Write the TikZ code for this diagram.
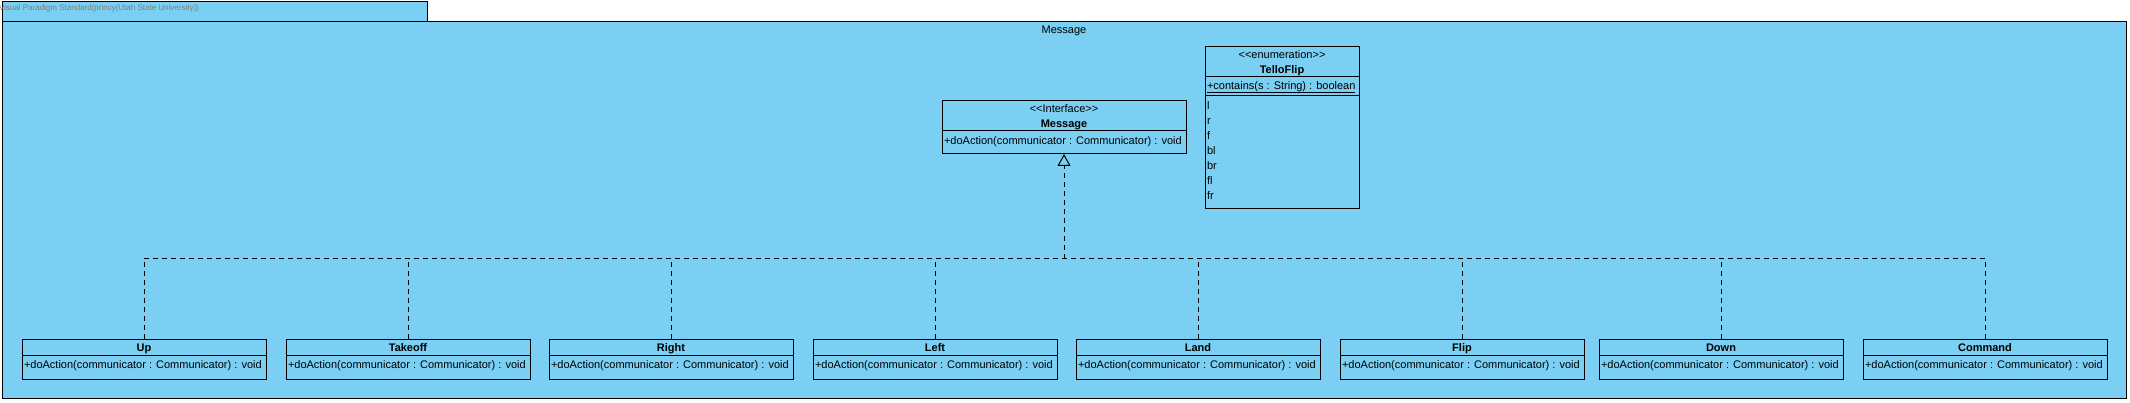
\documentclass[tikz,border=0pt]{standalone}
\usepackage{fontspec}
\setmainfont{Liberation Sans}
\usetikzlibrary{arrows.meta}
\definecolor{pkg}{RGB}{122,207,243}
\definecolor{tabgray}{RGB}{125,125,125}
\begin{document}
\begin{tikzpicture}[x=1pt,y=-1pt,line width=1pt,
  every node/.style={inner sep=0pt,outer sep=0pt},
  txt/.style={font=\fontsize{11}{13}\selectfont,text=black},
  boldtxt/.style={font=\fontsize{11}{13}\selectfont\bfseries,text=black},
  hdr/.style={draw=black,fill=pkg,minimum width=244pt,minimum height=16pt,anchor=north west,
    text height=8pt,text depth=0pt,font=\fontsize{11}{13}\selectfont\bfseries},
  bdy/.style={draw=black,fill=pkg,minimum width=244pt,minimum height=24pt,anchor=north},
  compart/.style={draw=black,fill=pkg,anchor=north west},
  realize/.style={dash pattern=on 5pt off 4pt}]
\useasboundingbox (0,0) rectangle (2130,403);
% package
\draw[fill=pkg] (2,2) rectangle (427,22);
\draw[fill=pkg] (2,22) rectangle (2126,398);
\node[anchor=base west,text=tabgray,font=\fontsize{8}{10}\selectfont] (tabtxt) at (-1,11) {Visual Paradigm Standard(princy(Utah State University))};
\node[txt,anchor=base] (pkglabel) at (1064,34) {Message};
% interface Message
\node[compart,minimum width=244pt,minimum height=30pt] (msgH) at (942,101) {};
\node[draw=black,fill=pkg,minimum width=244pt,minimum height=23pt,anchor=north] (msgB) at (msgH.south) {};
\node[txt,anchor=base] (msgSt) at (1064,113) {{<}{<}Interface{>}{>}};
\node[boldtxt,anchor=base] (msgNm) at (1064,128) {Message};
\node[txt,anchor=base west] (msgOp) at (944,145) {+doAction(communicator : Communicator) : void};
% enumeration TelloFlip
\node[compart,minimum width=154pt,minimum height=30pt] (tfH) at (1205,47) {};
\node[draw=black,fill=pkg,minimum width=154pt,minimum height=19pt,anchor=north] (tfO) at (tfH.south) {};
\node[draw=black,fill=pkg,minimum width=154pt,minimum height=113pt,anchor=north] (tfL) at (tfO.south) {};
\node[txt,anchor=base] (tfSt) at (1282,59) {{<}{<}enumeration{>}{>}};
\node[boldtxt,anchor=base] (tfNm) at (1282,74) {TelloFlip};
\node[txt,anchor=base west] (tfOp) at (1207,90) {+contains(s : String) : boolean};
\draw[line width=0.8pt] (tfOp.base west) ++(0,2) -- ([yshift=-2pt]tfOp.base east);
\foreach \lit/\yy [count=\i] in {l/110,r/125,f/140,bl/155,br/170,fl/185,fr/200}
  \node[txt,anchor=base west] (tfLit\i) at (1207,\yy) {\lit};
% bottom classes
\foreach \n/\lab/\xx in {up/Up/22,takeoff/Takeoff/286,right/Right/549,left/Left/813,land/Land/1076,flip/Flip/1340,down/Down/1599,cmd/Command/1863}{
  \node[hdr] (\n H) at (\xx,339) {\lab};
  \node[bdy] (\n B) at (\n H.south) {};
  \node[txt,anchor=base west] (\n Op) at ([xshift=2pt]\n B.west |- 0,368) {+doAction(communicator : Communicator) : void};
}
% realizations
\coordinate (bus) at (msgB.south |- 0,259);
\draw[realize] (upH.north |- bus) -- (cmdH.north |- bus);
\foreach \n in {up,takeoff,right,left,land,flip,down,cmd}
  \draw[realize] (\n H.north) -- (\n H.north |- bus);
\draw[realize,-{Triangle[open,length=12pt,width=13pt,line width=1pt]}] (bus) -- (msgB.south);
\end{tikzpicture}
\end{document}
